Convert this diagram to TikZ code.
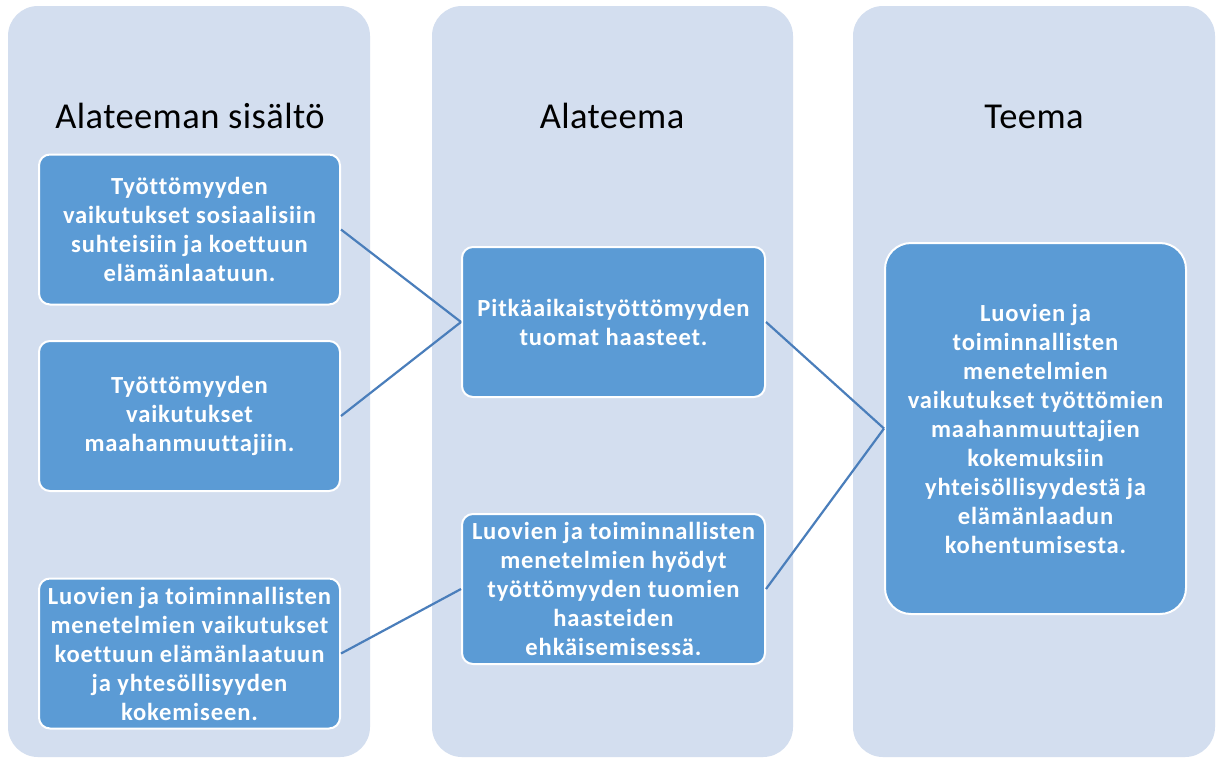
\documentclass[tikz,border=0pt]{standalone}
\usepackage{fontspec}
\setmainfont{Carlito}[Ligatures=NoCommon]
\newfontfamily\boxfont{Carlito}[Ligatures=NoCommon, LetterSpace=3.5]
\newfontfamily\titlefont{Carlito}[Ligatures=NoCommon, LetterSpace=1.2]
\definecolor{colbg}{HTML}{D3DEEF}
\definecolor{boxbl}{HTML}{5B9BD5}
\definecolor{linebl}{HTML}{4A7EBB}
\tikzset{
  colbox/.style={fill=colbg, draw=none, rounded corners=30pt},
  itembox/.style={rectangle, fill=boxbl, draw=white, line width=2pt, rounded corners=11pt,
    minimum width=301pt, minimum height=150pt, inner sep=1pt, align=center, text=white,
    font=\boxfont\fontsize{24.6}{29}\selectfont\bfseries},
  coltitle/.style={anchor=base, font=\titlefont\fontsize{36.5}{40}\selectfont, text=black},
  link/.style={draw=linebl, line width=2.2pt}
}
\begin{document}
\begin{tikzpicture}[x=1pt,y=-1pt]
\useasboundingbox (0,0) rectangle (1222,758);
\fill[white] (0,0) rectangle (1222,758);
\path[colbox] (8,6) rectangle (370,757);
\path[colbox] (432,6) rectangle (793,757);
\path[colbox] (853,6) rectangle (1215,757);

\node[coltitle] (t1) at (190,128) {Alateeman sisältö};
\node[coltitle] (t2) at (612,128) {Alateema};
\node[coltitle] (t3) at (1034,128) {Teema};

\node[itembox] (a1) at (189.5,229.5) {Työttömyyden\\vaikutukset sosiaalisiin\\suhteisiin ja koettuun\\elämänlaatuun.};
\node[itembox] (a2) at (189.5,416) {Työttömyyden\\vaikutukset\\maahanmuuttajiin.};
\node[itembox] (a3) at (189.5,653.5) {Luovien ja toiminnallisten\\menetelmien vaikutukset\\koettuun elämänlaatuun\\ja yhtesöllisyyden\\kokemiseen.};

\node[itembox, minimum width=303pt] (b1) at (613.5,322) {Pitkäaikaistyöttömyyden\\tuomat haasteet.};
\node[itembox, minimum width=303pt] (b2) at (613.5,589) {Luovien ja toiminnallisten\\menetelmien hyödyt\\työttömyyden tuomien\\haasteiden\\ehkäisemisessä.};

\node[itembox, minimum height=371pt, rounded corners=26pt] (c1) at (1035.5,428.5) {Luovien ja\\toiminnallisten\\menetelmien\\vaikutukset työttömien\\maahanmuuttajien\\kokemuksiin\\yhteisöllisyydestä ja\\elämänlaadun\\kohentumisesta.};

\draw[link] (a1.east) -- (b1.west);
\draw[link] (a2.east) -- (b1.west);
\draw[link] (a3.east) -- (b2.west);
\draw[link] (b1.east) -- (c1.west);
\draw[link] (b2.east) -- (c1.west);
\end{tikzpicture}
\end{document}
